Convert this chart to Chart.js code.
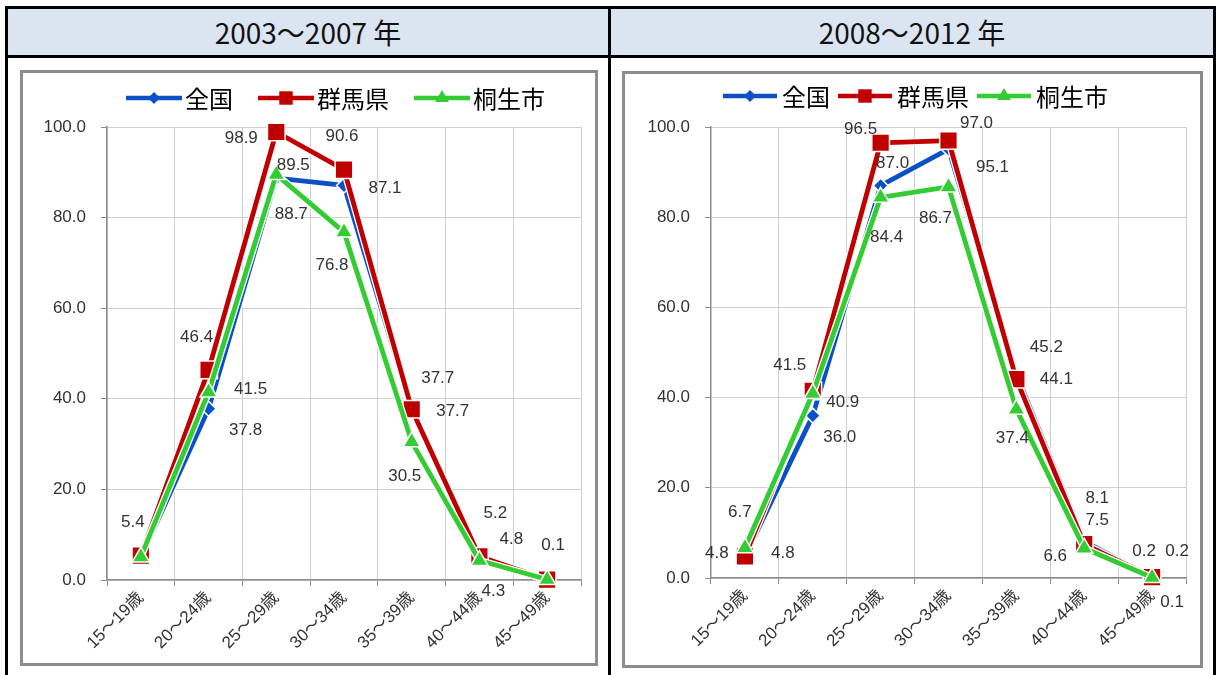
<!DOCTYPE html>
<html lang="ja">
<head>
<meta charset="utf-8">
<title>年齢別有配偶率</title>
<script src="https://cdn.jsdelivr.net/npm/chart.js@4.4.1/dist/chart.umd.min.js"></script>
<style>
body{margin:0;background:#fff;width:1216px;height:675px;overflow:hidden;position:relative;font-family:"Noto Sans CJK JP",sans-serif;}
.ln{position:absolute;background:#000;}
.hd{position:absolute;top:9px;height:46px;background:#dbe5f1;font-size:28px;line-height:46px;text-align:center;color:#111;}
.box{position:absolute;border:3px solid #8c8c8c;background:#fff;}
.box canvas{display:block;}
</style>
</head>
<body>
<div class="hd" style="left:8px;width:600px;">2003～2007 年</div>
<div class="hd" style="left:611px;width:602px;">2008～2012 年</div>
<div class="ln" style="left:5px;top:6px;width:1211px;height:3px;"></div>
<div class="ln" style="left:5px;top:55px;width:1211px;height:3px;"></div>
<div class="ln" style="left:5px;top:6px;width:3px;height:700px;"></div>
<div class="ln" style="left:608px;top:6px;width:3px;height:700px;"></div>
<div class="ln" style="left:1213px;top:6px;width:3px;height:700px;"></div>

<div class="box" style="left:20px;top:70px;width:572px;height:590px;"><canvas id="c1"></canvas></div>
<div class="box" style="left:622px;top:71px;width:575px;height:591px;"><canvas id="c2"></canvas></div>

<script>
// 年齢階級
const ageLabels = ['15～19歳', '20～24歳', '25～29歳', '30～34歳', '35～39歳', '40～44歳', '45～49歳'];
const seriesNames = ['全国', '群馬県', '桐生市'];
const yTicks = [0, 20, 40, 60, 80, 100];

// 2003～2007年
const zenkoku1 = [5.0, 37.8, 88.7, 87.1, 37.7, 4.8, 0.1];
const gunma1   = [5.4, 46.4, 98.9, 90.6, 37.7, 5.2, 0.1];
const kiryu1   = [5.1, 41.5, 89.5, 76.8, 30.5, 4.3, 0.1];

// 2008～2012年
const zenkoku2 = [4.8, 36.0, 87.0, 95.1, 45.2, 8.1, 0.2];
const gunma2   = [4.8, 41.5, 96.5, 97.0, 44.1, 7.5, 0.2];
const kiryu2   = [6.7, 40.9, 84.4, 86.7, 37.4, 6.6, 0.1];

// ラベルの位置ずらし (px)  null = 表示しない
const offZenkoku1 = [null, [37, 22], [15, 36], [41, 3], [41, 2], [32, -19], null];
const offGunma1   = [[-8, -33], [-12, -32], [-35, 6], [-2, -33], [26, -31], [16, -43], [6, -34]];
const offKiryu1   = [null, [42, -3], [17, -9], [-12, 33], [-7, 34], [14, 31], null];
const offZenkoku2 = [[38, -3], [27, 22], [12, -22], [44, 18], [30, -27], [13, -43], [-8, -26]];
const offGunma2   = [[-28, -3], [-23, -26], [-20, -13], [28, -17], [40, 0], [13, -24], [25, -26]];
const offKiryu2   = [[-5, -35], [30, 9], [6, 40], [-13, 31], [-4, 29], [-29, 8], [20, 25]];

const colors = ['#0c50c8', '#c00000', '#33cc33'];
const styles = ['rectRot', 'rect', 'triangle'];
const radii = [7.5, 12.5, 10];

const txtColor = '#333';
const numFont = {family: '"Liberation Sans", Arial', size: 17};

// 線の白いふち
const whiteEdge = {
  id: 'whiteEdge',
  beforeDatasetDraw(chart, args) {
    const pts = args.meta.data;
    const ctx = chart.ctx;
    ctx.save();
    ctx.strokeStyle = '#fff';
    ctx.lineWidth = 7.5;
    ctx.lineJoin = 'round';
    ctx.beginPath();
    pts.forEach((p, i) => i ? ctx.lineTo(p.x, p.y) : ctx.moveTo(p.x, p.y));
    ctx.stroke();
    ctx.restore();
  }
};

// データラベル
const valueLabels = {
  id: 'valueLabels',
  afterDatasetsDraw(chart) {
    const ctx = chart.ctx;
    ctx.save();
    ctx.font = '17px "Liberation Sans", Arial';
    ctx.fillStyle = txtColor;
    ctx.textAlign = 'center';
    ctx.textBaseline = 'middle';
    chart.data.datasets.forEach((ds, di) => {
      const meta = chart.getDatasetMeta(di);
      meta.data.forEach((p, i) => {
        const off = ds.labelOffsets[i];
        if (!off) return;
        ctx.fillText(ds.data[i].toFixed(1), p.x + off[0], p.y + off[1]);
      });
    });
    ctx.restore();
  }
};

function marker(ctx, style, x, y, r) {
  ctx.beginPath();
  if (style === 'rect') {
    const s = r * Math.SQRT1_2;
    ctx.rect(x - s, y - s, 2 * s, 2 * s);
  } else if (style === 'rectRot') {
    ctx.moveTo(x - r, y); ctx.lineTo(x, y - r); ctx.lineTo(x + r, y); ctx.lineTo(x, y + r);
    ctx.closePath();
  } else {
    ctx.moveTo(x, y - r);
    ctx.lineTo(x + r * Math.sin(Math.PI * 2 / 3), y - r * Math.cos(Math.PI * 2 / 3));
    ctx.lineTo(x + r * Math.sin(Math.PI * 4 / 3), y - r * Math.cos(Math.PI * 4 / 3));
    ctx.closePath();
  }
  ctx.fill();
}

// Excel風の凡例
const excelLegend = {
  id: 'excelLegend',
  afterDraw(chart, args, o) {
    const ctx = chart.ctx;
    ctx.save();
    ctx.font = '24px "Noto Sans CJK JP"';
    ctx.textBaseline = 'middle';
    let x = o.x;
    const legR = [6, 9.5, 8];
    chart.data.datasets.forEach((ds, i) => {
      ctx.strokeStyle = ds.borderColor;
      ctx.lineWidth = 4.5;
      ctx.beginPath();
      ctx.moveTo(x, o.y);
      ctx.lineTo(x + o.lineW, o.y);
      ctx.stroke();
      ctx.fillStyle = ds.borderColor;
      marker(ctx, ds.pointStyle, x + o.lineW / 2, o.y, legR[i]);
      ctx.fillStyle = '#000';
      const tx = x + o.lineW + o.textGap;
      ctx.fillText(ds.label, tx, o.y + 1);
      x = tx + ctx.measureText(ds.label).width + o.itemGap;
    });
    ctx.restore();
  }
};

function makeDataset(i, values, offsets, order) {
  return {
    label: seriesNames[i],
    data: values,
    labelOffsets: offsets,
    borderColor: colors[i],
    backgroundColor: colors[i],
    borderWidth: 4.8,
    borderJoinStyle: 'round',
    pointStyle: styles[i],
    pointRadius: radii[i],
    pointHoverRadius: radii[i],
    pointBackgroundColor: colors[i],
    pointBorderColor: '#fff',
    pointBorderWidth: 1.5,
    tension: 0,
    clip: false,
    order: order
  };
}

function makeChart(id, z, g, k, oz, og, ok, lay, leg) {
  return new Chart(document.getElementById(id), {
    type: 'line',
    data: {
      labels: ageLabels,
      datasets: [
        makeDataset(0, z, oz, 3),
        makeDataset(1, g, og, 2),
        makeDataset(2, k, ok, 1)
      ]
    },
    options: {
      responsive: true,
      maintainAspectRatio: false,
      animation: false,
      events: [],
      layout: {padding: {left: 0, top: lay.top, right: lay.right, bottom: 0}},
      plugins: {
        legend: {display: false},
        tooltip: {enabled: false},
        excelLegend: leg
      },
      scales: {
        x: {
          type: 'category',
          offset: true,
          grid: {offset: true, color: '#cfcfcf', tickColor: '#8c8c8c', tickLength: 6, lineWidth: 1},
          border: {color: '#8c8c8c', width: 1.5},
          ticks: {
            autoSkip: false, minRotation: 45, maxRotation: 45, padding: 2,
            color: txtColor, font: {family: '"Liberation Sans", "Noto Sans CJK JP"', size: 17}
          },
          afterFit(s) { s.height = lay.xh; }
        },
        y: {
          min: 0, max: 100,
          afterBuildTicks(s) { s.ticks = yTicks.map(v => ({value: v})); },
          grid: {color: '#cfcfcf', tickColor: '#8c8c8c', tickLength: 6, lineWidth: 1},
          border: {color: '#8c8c8c', width: 1.5},
          ticks: {
            padding: 15, color: txtColor, font: numFont,
            callback: v => v.toFixed(1)
          },
          afterFit(s) { s.width = lay.yw; }
        }
      }
    },
    plugins: [whiteEdge, valueLabels, excelLegend]
  });
}

makeChart('c1', zenkoku1, gunma1, kiryu1, offZenkoku1, offGunma1, offKiryu1,
  {top: 54, right: 12, xh: 83, yw: 84},
  {x: 103, y: 25, lineW: 56, textGap: 3, itemGap: 25});
makeChart('c2', zenkoku2, gunma2, kiryu2, offZenkoku2, offGunma2, offKiryu2,
  {top: 53, right: 13, xh: 87, yw: 86},
  {x: 98, y: 22, lineW: 54, textGap: 5, itemGap: 8});
</script>
</body>
</html>
